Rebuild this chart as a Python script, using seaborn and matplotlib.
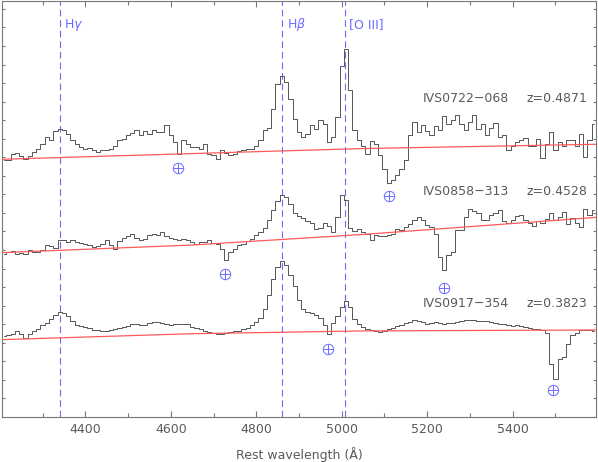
import numpy as np
import matplotlib
matplotlib.use("Agg")
import matplotlib.pyplot as plt
from matplotlib.ticker import MultipleLocator
import seaborn as sns

# rest wavelength grid (Angstrom), 10 A bins
wave = np.arange(4210, 5600, 10)

# spectra, already shifted by their offset in the plot
flux_0722 = [
    13.83, 13.83, 14.19, 14.23, 14.05, 13.92, 14.05, 14.28, 14.46, 14.73,
    15.09, 14.91, 15.41, 15.54, 15.49, 15.27, 14.95, 14.70, 14.55, 14.46,
    14.52, 14.37, 14.28, 14.37, 14.41, 14.46, 14.59, 14.91, 15.00, 15.18,
    15.31, 15.45, 15.18, 15.41, 15.27, 15.45, 15.36, 15.36, 15.72, 15.18,
    14.82, 14.16, 14.91, 14.73, 14.55, 14.55, 14.46, 14.73, 14.19, 14.10,
    13.92, 14.37, 14.23, 14.10, 14.19, 14.32, 14.37, 14.46, 14.46, 14.59,
    14.95, 15.45, 15.59, 16.62, 17.97, 18.36, 18.06, 17.16, 16.08, 15.36,
    15.09, 15.27, 15.72, 15.54, 15.99, 15.81, 14.82, 15.09, 16.17, 18.90,
    19.85, 17.61, 15.45, 14.91, 14.59, 14.19, 14.88, 14.73, 14.10, 13.38,
    12.61, 12.79, 13.06, 13.38, 13.83, 15.18, 15.90, 15.36, 15.72, 15.41,
    15.18, 15.67, 15.49, 16.21, 15.77, 15.99, 16.26, 15.81, 15.49, 15.90,
    16.26, 15.54, 15.81, 15.18, 15.59, 15.85, 15.09, 15.18, 14.37, 14.59,
    14.82, 14.95, 15.06, 14.59, 14.59, 15.00, 13.98, 14.73, 15.36, 14.41,
    14.82, 14.59, 14.91, 14.95, 14.59, 15.27, 14.01, 14.91, 15.81,
]
flux_0858 = [
    8.80, 8.89, 8.95, 8.80, 8.84, 8.80, 8.98, 8.89, 8.89, 9.02,
    9.25, 9.20, 9.13, 9.56, 9.56, 9.43, 9.52, 9.43, 9.38, 9.34,
    9.25, 9.16, 9.20, 9.31, 9.52, 9.25, 9.07, 9.47, 9.67, 9.74,
    9.88, 9.67, 9.56, 9.61, 9.79, 9.88, 9.79, 9.97, 9.74, 9.67,
    9.61, 9.52, 9.61, 9.56, 9.43, 9.34, 9.43, 9.43, 9.52, 9.38,
    9.34, 9.07, 8.48, 8.89, 9.07, 9.25, 9.34, 9.47, 9.58, 9.79,
    9.97, 10.20, 10.60, 11.17, 11.64, 11.98, 11.86, 11.46, 11.00, 10.83,
    10.73, 10.57, 10.46, 10.15, 10.21, 10.46, 10.28, 9.97, 10.78, 11.95,
    11.68, 10.21, 10.01, 10.15, 9.97, 9.85, 9.56, 9.79, 9.74, 9.74,
    9.79, 9.88, 10.13, 10.10, 10.24, 10.42, 10.60, 10.78, 10.60, 10.33,
    10.24, 9.88, 8.62, 7.94, 8.71, 8.89, 10.06, 10.10, 10.78, 11.23,
    11.10, 10.99, 10.60, 10.64, 10.87, 10.99, 11.14, 10.57, 10.46, 10.60,
    10.82, 10.87, 10.60, 10.46, 10.28, 10.57, 10.46, 10.69, 10.99, 10.64,
    10.78, 11.05, 10.42, 10.74, 10.46, 10.24, 11.23, 10.87, 11.18,
]
flux_0917 = [
    4.37, 4.44, 4.49, 4.62, 4.49, 4.26, 4.46, 4.62, 4.76, 4.94,
    5.09, 5.27, 5.50, 5.64, 5.61, 5.43, 5.16, 4.94, 4.89, 4.85,
    4.80, 4.71, 4.67, 4.64, 4.65, 4.67, 4.74, 4.82, 4.87, 4.92,
    5.01, 4.99, 4.94, 4.96, 5.07, 5.10, 5.12, 5.09, 5.03, 4.96,
    4.99, 5.03, 5.03, 5.01, 4.87, 4.80, 4.73, 4.65, 4.60, 4.53,
    4.47, 4.47, 4.55, 4.60, 4.64, 4.65, 4.73, 4.82, 4.96, 5.14,
    5.34, 5.84, 6.56, 7.46, 8.09, 8.39, 8.17, 7.67, 7.08, 6.33,
    5.84, 5.68, 5.61, 5.50, 5.34, 4.94, 4.49, 5.07, 5.45, 5.93,
    6.25, 5.93, 5.27, 5.03, 4.85, 4.73, 4.67, 4.64, 4.60, 4.64,
    4.74, 4.82, 4.89, 4.96, 5.05, 5.14, 5.21, 5.17, 5.10, 5.03,
    5.09, 5.12, 5.07, 5.03, 5.07, 5.09, 5.14, 5.16, 5.21, 5.23,
    5.25, 5.19, 5.16, 5.16, 5.12, 5.05, 5.01, 4.99, 4.96, 4.92,
    4.94, 4.89, 4.83, 4.80, 4.76, 4.73, 4.71, 4.53, 2.88, 2.07,
    3.15, 3.24, 3.95, 4.40, 4.55, 4.71, 4.67, 4.71, 4.64,
]

# continuum fits (red)
cont_wave = [4205, 4650, 5050, 5595]
cont_0722 = [13.89, 14.20, 14.47, 14.70]
cont_0858 = [8.86, 9.27, 9.84, 10.76]
cont_0917 = [4.17, 4.49, 4.64, 4.69]

# telluric / absorption markers
abs_wave = [4617, 5111, 4727, 5240, 4968, 5494]
abs_y = [13.42, 11.93, 7.69, 6.95, 3.69, 1.44]

names = ["IVS0722\u2212068", "IVS0858\u2212313", "IVS0917\u2212354"]
redshifts = ["z=0.4871", "z=0.4528", "z=0.3823"]
label_y = [17.19, 12.16, 6.14]

line_waves = [4340, 4861, 5007]
line_names = ["H$\\gamma$", "H$\\beta$", "[O III]"]

blue = "#6a6aff"
gray = "#5a5a5a"

sns.set_style("ticks")
plt.rcParams["font.family"] = ["DejaVu Sans"]

fig = plt.figure(figsize=(5.98, 4.62), dpi=100)
ax = fig.add_axes([2 / 598, 45 / 462, 594 / 598, 416.5 / 462])

for lw_, nm in zip(line_waves, line_names):
    ax.axvline(lw_, color=blue, lw=0.8, dashes=(6, 3.5), zorder=1)
    ax.text(lw_ + 11, 21.15, nm, color=blue, fontsize=9, va="center")

for fl in [flux_0722, flux_0858, flux_0917]:
    sns.lineplot(x=wave, y=fl, drawstyle="steps-mid", color="#4a4a4a",
                 lw=0.65, ax=ax, zorder=2)
for cc in [cont_0722, cont_0858, cont_0917]:
    sns.lineplot(x=cont_wave, y=cc, color="#ff5a5a", lw=0.9, ax=ax, zorder=3)

ax.plot(abs_wave, abs_y, "o", mfc="none", mec=blue, ms=7.5, mew=0.7)
ax.plot(abs_wave, abs_y, "+", color=blue, ms=7.5, mew=0.7)

for nm, zz, yy in zip(names, redshifts, label_y):
    ax.text(5190, yy, nm, color=gray, fontsize=9, va="center")
    ax.text(5433, yy, zz, color=gray, fontsize=9, va="center")

ax.set_xlim(4205, 5595)
ax.set_ylim(0, 22.45)
ax.xaxis.set_major_locator(MultipleLocator(200))
ax.xaxis.set_minor_locator(MultipleLocator(100))
ax.yaxis.set_major_locator(MultipleLocator(1))
ax.tick_params(which="both", direction="in", top=True, right=True,
               color="#777777", width=0.8, labelleft=False,
               labelsize=9, labelcolor=gray, pad=4)
ax.tick_params(axis="x", which="major", length=4.3)
ax.tick_params(axis="x", which="minor", length=2.6)
ax.tick_params(axis="y", which="major", length=2.4)
for sp in ax.spines.values():
    sp.set_color("#777777")
    sp.set_linewidth(0.8)
ax.set_xlabel("")
ax.set_ylabel("")

fig.text(299 / 598, 1 - 455 / 462, "Rest wavelength (\u00c5)", color=gray,
         fontsize=9, ha="center", va="center")

fig.savefig("out.png", dpi=100)
